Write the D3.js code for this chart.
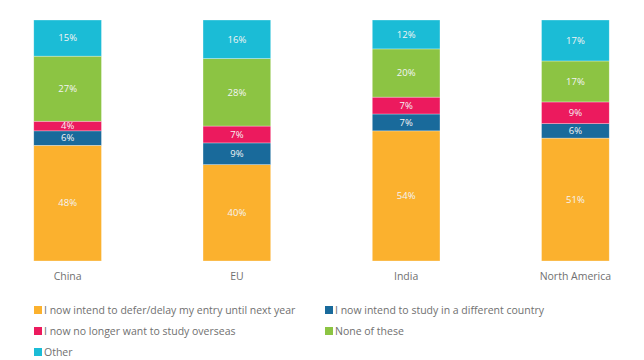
<!DOCTYPE html>
<html><head><meta charset="utf-8">
<script src="https://cdn.jsdelivr.net/npm/d3@7"></script>
<style>body{margin:0;background:#fff}svg{display:block}</style>
</head><body><svg id="c" width="644" height="360"></svg>
<script>
const categories = ["China", "EU", "India", "North America"];
const seriesNames = ["I now intend to defer/delay my entry until next year", "I now intend to study in a different country", "I now no longer want to study overseas", "None of these", "Other"];
const defer = [48, 40, 54, 51];
const differentCountry = [6, 9, 7, 6];
const noLonger = [4, 7, 7, 9];
const noneOfThese = [27, 28, 20, 17];
const other = [15, 16, 12, 17];
const colors = ["#FBB12E", "#196A9B", "#EC1A5E", "#8CC443", "#1BBCD6"];

const values = [defer, differentCountry, noLonger, noneOfThese, other];
const rows = categories.map((c, i) => {
  const r = {cat: c};
  seriesNames.forEach((s, j) => r[s] = values[j][i]);
  return r;
});
const svg = d3.select("#c");
const x = d3.scaleBand().domain(categories).range([-17, 660]).paddingInner(0.6).paddingOuter(0.3);
const y = d3.scaleLinear().domain([0, 100]).range([261, 20]);
const stack = d3.stack().keys(seriesNames)(rows);
const font = "'Open Sans', sans-serif";

const g = svg.append("g");
stack.forEach((layer, j) => {
  const lg = g.append("g");
  lg.selectAll("rect").data(layer).join("rect")
    .attr("x", d => x(d.data.cat))
    .attr("width", x.bandwidth())
    .attr("y", d => y(d[1]))
    .attr("height", d => y(d[0]) - y(d[1]))
    .attr("fill", colors[j])
    .attr("stroke", "rgba(255,255,255,0.5)")
    .attr("stroke-width", 0.6);
  lg.selectAll("text").data(layer).join("text")
    .attr("x", d => x(d.data.cat) + x.bandwidth() / 2)
    .attr("y", d => (y(d[0]) + y(d[1])) / 2)
    .attr("dy", "0.35em")
    .attr("text-anchor", "middle")
    .attr("font-family", font)
    .attr("font-size", 9.5)
    .attr("fill", "#f4f4f4")
    .text(d => (d[1] - d[0]) + "%");
});

const xa = svg.append("g").attr("transform", "translate(0,261)")
  .call(d3.axisBottom(x).tickSize(0).tickPadding(12));
xa.select(".domain").remove();
xa.selectAll("text").attr("font-family", font).attr("font-size", 10.5).attr("fill", "#707070");

const legPos = [[34, 310], [325, 310], [34, 331], [325, 331], [34, 352]];
const leg = svg.append("g");
seriesNames.forEach((s, j) => {
  const [lx, ly] = legPos[j];
  leg.append("rect").attr("x", lx).attr("y", ly - 4).attr("width", 8).attr("height", 8).attr("fill", colors[j]);
  leg.append("text").attr("x", lx + 10).attr("y", ly).attr("dy", "0.35em")
    .attr("font-family", font).attr("font-size", 10.5).attr("fill", "#707070").text(s);
});
</script></body></html>
